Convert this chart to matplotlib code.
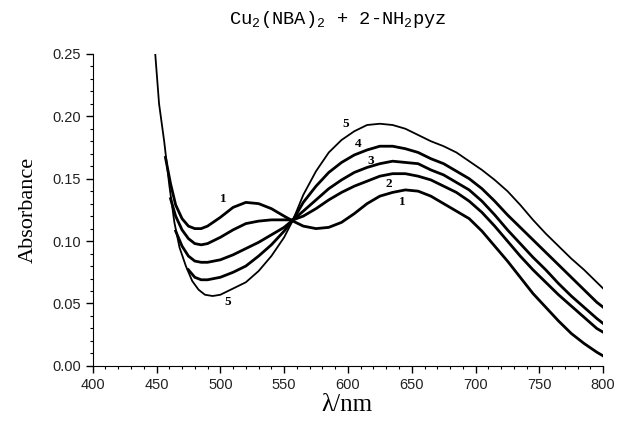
import numpy as np
import matplotlib
matplotlib.use("Agg")
import matplotlib.pyplot as plt
from matplotlib.ticker import MultipleLocator

plt.rcParams['mathtext.fontset'] = 'custom'
plt.rcParams['mathtext.rm'] = 'Liberation Mono'

# wavelength (nm) / absorbance, one list per curve
wl1 = [457, 461, 465, 470, 475, 480, 485, 490, 500, 510, 520, 530, 540, 550, 557, 565, 575, 585, 595,
       605, 615, 625, 635, 645, 655, 665, 675, 685, 695, 705, 715, 725, 735, 745, 755, 765, 775, 785, 795, 800]
ab1 = [0.167, 0.146, 0.129, 0.118, 0.112, 0.110, 0.110, 0.112, 0.119, 0.127, 0.131, 0.130, 0.126, 0.120,
       0.116, 0.112, 0.110, 0.111, 0.115, 0.122, 0.130, 0.136, 0.139, 0.141, 0.140, 0.136, 0.130, 0.124,
       0.118, 0.108, 0.096, 0.084, 0.071, 0.058, 0.047, 0.036, 0.026, 0.018, 0.011, 0.008]

wl2 = [461, 465, 470, 475, 480, 485, 490, 500, 510, 520, 530, 540, 550, 557, 565, 575, 585, 595,
       605, 615, 625, 635, 645, 655, 665, 675, 685, 695, 705, 715, 725, 735, 745, 755, 765, 775, 785, 795, 800]
ab2 = [0.134, 0.120, 0.109, 0.102, 0.098, 0.097, 0.098, 0.103, 0.109, 0.114, 0.116, 0.117, 0.117, 0.117,
       0.120, 0.126, 0.133, 0.139, 0.144, 0.148, 0.152, 0.154, 0.154, 0.152, 0.149, 0.144, 0.139, 0.132,
       0.123, 0.112, 0.100, 0.088, 0.077, 0.067, 0.057, 0.048, 0.039, 0.030, 0.027]

wl3 = [465, 470, 475, 480, 485, 490, 500, 510, 520, 530, 540, 550, 557, 565, 575, 585, 595,
       605, 615, 625, 635, 645, 655, 665, 675, 685, 695, 705, 715, 725, 735, 745, 755, 765, 775, 785, 795, 800]
ab3 = [0.108, 0.096, 0.088, 0.084, 0.083, 0.083, 0.085, 0.089, 0.094, 0.099, 0.105, 0.111, 0.117, 0.124,
       0.133, 0.142, 0.149, 0.155, 0.159, 0.162, 0.164, 0.163, 0.162, 0.157, 0.153, 0.147, 0.141, 0.132,
       0.121, 0.109, 0.098, 0.087, 0.077, 0.066, 0.056, 0.047, 0.038, 0.034]

wl4 = [475, 480, 485, 490, 500, 510, 520, 530, 540, 550, 557, 565, 575, 585, 595,
       605, 615, 625, 635, 645, 655, 665, 675, 685, 695, 705, 715, 725, 735, 745, 755, 765, 775, 785, 795, 800]
ab4 = [0.077, 0.071, 0.069, 0.069, 0.071, 0.075, 0.080, 0.088, 0.097, 0.108, 0.117, 0.131, 0.144, 0.155,
       0.163, 0.169, 0.173, 0.176, 0.176, 0.174, 0.171, 0.166, 0.162, 0.156, 0.150, 0.142, 0.132, 0.121,
       0.111, 0.101, 0.091, 0.081, 0.071, 0.061, 0.051, 0.047]

wl5 = [449, 452, 456, 460, 464, 468, 473, 478, 483, 488, 494, 500, 510, 520, 530, 540, 550, 557, 565,
       575, 585, 595, 605, 615, 625, 635, 645, 655, 665, 675, 685, 695, 705, 715, 725, 735, 745, 755,
       765, 775, 785, 795, 800]
ab5 = [0.250, 0.210, 0.180, 0.145, 0.115, 0.095, 0.080, 0.068, 0.061, 0.057, 0.056, 0.057, 0.062, 0.067,
       0.076, 0.088, 0.103, 0.117, 0.137, 0.156, 0.171, 0.181, 0.188, 0.193, 0.194, 0.193, 0.190, 0.185,
       0.180, 0.176, 0.171, 0.164, 0.157, 0.149, 0.140, 0.129, 0.117, 0.106, 0.096, 0.086, 0.077, 0.067,
       0.062]

# curve numbers written next to the curves
lab_text = ["1", "5", "5", "4", "3", "2", "1"]
lab_x = [502, 506, 598, 608, 618, 632, 643]
lab_y = [0.134, 0.051, 0.194, 0.178, 0.164, 0.146, 0.131]

fig = plt.figure(figsize=(6.18, 4.24), dpi=100)
ax = fig.add_axes([0.150, 0.137, 0.826, 0.736])

for wl, ab, lw in [(wl1, ab1, 2.0), (wl2, ab2, 2.0), (wl3, ab3, 2.0), (wl4, ab4, 2.0), (wl5, ab5, 1.3)]:
    ax.plot(wl, ab, color='black', lw=lw, solid_joinstyle='round')

for t, x, y in zip(lab_text, lab_x, lab_y):
    ax.text(x, y, t, family='Liberation Serif', fontweight='bold', fontsize=9.5,
            ha='center', va='center')

ax.set_xlim(400, 800)
ax.set_ylim(0, 0.25)
ax.xaxis.set_major_locator(MultipleLocator(50))
ax.xaxis.set_minor_locator(MultipleLocator(10))
ax.yaxis.set_major_locator(MultipleLocator(0.05))
ax.yaxis.set_minor_locator(MultipleLocator(0.01))
ax.yaxis.set_major_formatter(matplotlib.ticker.FormatStrFormatter('%.2f'))

ax.spines['top'].set_visible(False)
ax.spines['right'].set_visible(False)
ax.tick_params(which='major', direction='out', length=5, width=1, labelsize=10.5)
ax.tick_params(which='minor', direction='out', length=2.5, width=0.8)
for lbl in ax.get_xticklabels() + ax.get_yticklabels():
    lbl.set_family('Liberation Sans')
    lbl.set_color('#222222')

fig.text(0.547, 0.955, r'Cu$_\mathrm{2}$(NBA)$_\mathrm{2}$ + 2-NH$_\mathrm{2}$pyz', family='Liberation Mono',
         fontsize=13.5, ha='center', va='center')
fig.text(0.562, 0.045, 'λ/nm', family='Liberation Serif', fontsize=18,
         ha='center', va='center')
fig.text(0.045, 0.505, 'Absorbance', family='Liberation Serif', fontsize=16,
         rotation=90, ha='center', va='center')

fig.savefig('out.png', dpi=100)
